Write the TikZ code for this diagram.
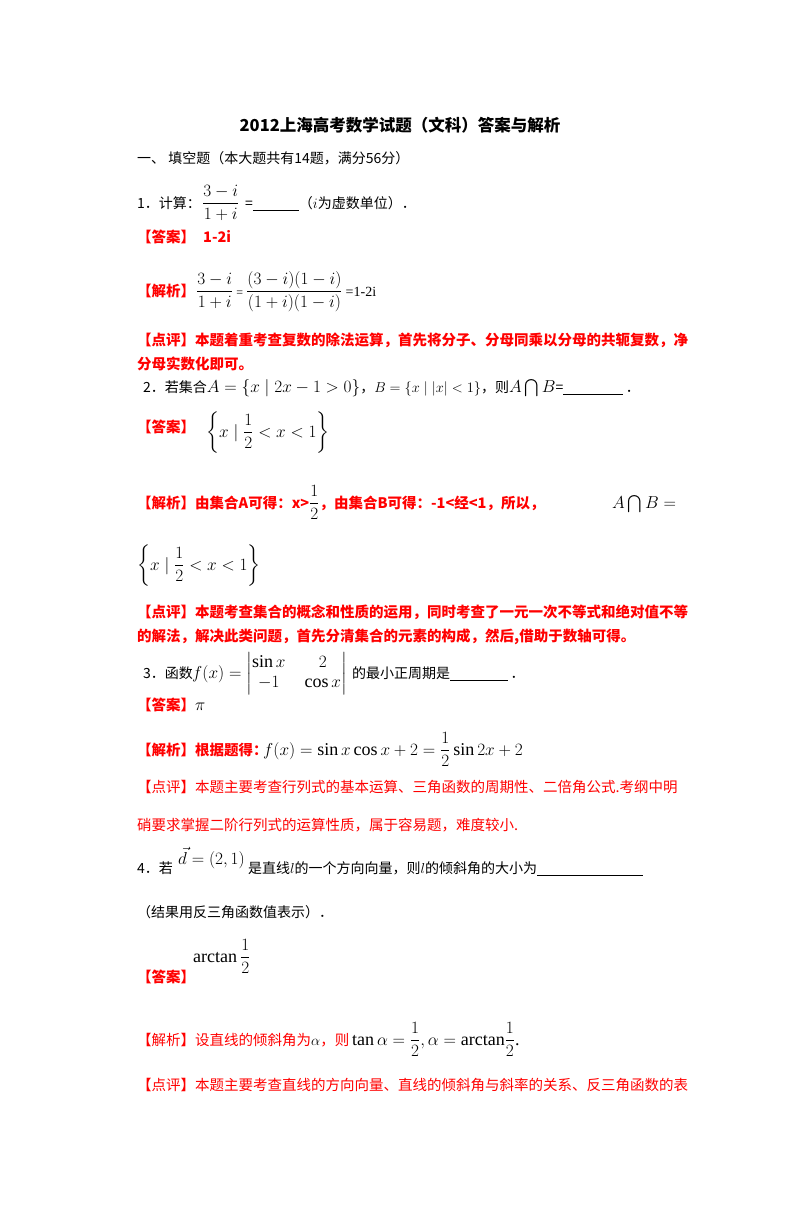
\documentclass[tikz,border=0pt]{standalone}
\usepackage{amsmath}
\usepackage{fontspec}
\setmainfont{Liberation Serif}
\newfontfamily\cjk{Noto Sans CJK SC}
\definecolor{rd}{HTML}{FF0000}
\begin{document}
\begin{tikzpicture}[x=1pt,y=-1pt,
  t/.style={anchor=base west,inner sep=0pt,font=\fontsize{14}{16}\selectfont\cjk},
  r/.style={t,text=rd,font=\fontsize{14.5}{16}\selectfont\cjk\bfseries},
  rl/.style={t,text=rd,font=\fontsize{14.5}{16}\selectfont\cjk},
  m/.style={anchor=base west,inner sep=0pt,font=\fontsize{18}{20}\selectfont}]
\useasboundingbox (0,0) rectangle (800,1216);
\fill[white] (0,0) rectangle (800,1216);
\node[anchor=base,inner sep=0pt,font=\fontsize{16.5}{18}\selectfont\cjk\bfseries] (title) at (400,131) {2012上海高考数学试题（文科）答案与解析};
\node[t] (s1) at (137,163) {一、 填空题（本大题共有14题，满分56分）};
% Q1
\node[t] (q1) at (137,208) {1．计算：};
\node[m] (q1f) at (202,208) {$\dfrac{3-i}{1+i}$};
\node[t] (q1u) at (245,208) {=\underline{\hspace{46pt}}（$i$为虚数单位）．};
\node[r] (a1) at (137,242) {【答案】\hspace{8pt}1-2i};
\node[r] (j1) at (137,296) {【解析】};
\node[m] (j1m) at (196,296) {$\dfrac{3-i}{1+i}$\,{\fontsize{12}{14}\selectfont=}\,$\dfrac{(3-i)(1-i)}{(1+i)(1-i)}$\,{\fontsize{14}{14}\selectfont=1-2i}};
\node[r] (d1) at (137,345) {【点评】本题着重考查复数的除法运算，首先将分子、分母同乘以分母的共轭复数，净};
\node[r] (d1b) at (137,369) {分母实数化即可。};
% Q2
\node[t] (q2) at (143,392) {2．若集合{\fontsize{17}{17}\selectfont$A=\{x\mid 2x-1>0\}$}，$B=\{x\mid |x|<1\}$，则{\fontsize{17}{17}\selectfont$A\bigcap B$}=\underline{\hspace{60pt}}\,．};
\node[r] (a2) at (137,432) {【答案】};
\node[m] (a2m) at (206,437) {$\left\{x\mid \dfrac12<x<1\right\}$};
\node[r] (j2) at (137,508) {【解析】由集合A可得：x>\textcolor{black}{\fontsize{18}{18}\selectfont$\dfrac12$}，由集合B可得：-1<经<1，所以，};
\node[m] (j2b) at (612,508) {$A\bigcap B=$};
\node[m] (s2) at (137,570) {$\left\{x\mid \dfrac12<x<1\right\}$};
\node[r] (d2) at (137,617) {【点评】本题考查集合的概念和性质的运用，同时考查了一元一次不等式和绝对值不等};
\node[r] (d2b) at (137,641) {的解法，解决此类问题，首先分清集合的元素的构成，然后,借助于数轴可得。};
% Q3
\node[t] (q3) at (143,678) {3．函数};
\node[m] (q3m) at (192,678) {$f(x)=\begin{vmatrix}\sin x & \enspace 2\\ -1 & \enspace\cos x\end{vmatrix}$};
\node[t] (q3b) at (352,678) {的最小正周期是\underline{\hspace{58pt}}\,．};
\node[r] (a3) at (137,710) {【答案】{\fontsize{18}{18}\selectfont\textcolor{black}{$\pi$}}};
\node[r] (j3) at (137,755) {【解析】根据题得：};
\node[m] (j3m) at (263,755) {$f(x)=\sin x\cos x+2=\dfrac12\sin 2x+2$};
\node[rl] (d3) at (137,792) {【点评】本题主要考查行列式的基本运算、三角函数的周期性、二倍角公式.考纲中明};
\node[rl] (d3b) at (137,830) {硝要求掌握二阶行列式的运算性质，属于容易题，难度较小.};
% Q4
\node[t] (q4) at (137,873) {4．若};
\node[m] (q4m) at (178,864) {$\vec d=(2,1)$};
\node[t] (q4b) at (248,873) {是直线$l$的一个方向向量，则$l$的倾斜角的大小为\underline{\hspace{106pt}}};
\node[t] (q4c) at (137,917) {（结果用反三角函数值表示）．};
\node[m] (a4m) at (193,962) {arctan\,$\dfrac12$};
\node[r] (a4) at (137,982) {【答案】};
\node[rl] (j4) at (137,1045) {【解析】设直线的倾斜角为\textcolor{black}{$\alpha$}，则};
\node[m] (j4m) at (352,1045) {$\tan\alpha=\dfrac12,\alpha=\mathrm{arctan}\dfrac12$.};
\node[rl] (d4) at (137,1090) {【点评】本题主要考查直线的方向向量、直线的倾斜角与斜率的关系、反三角函数的表};
\end{tikzpicture}
\end{document}
